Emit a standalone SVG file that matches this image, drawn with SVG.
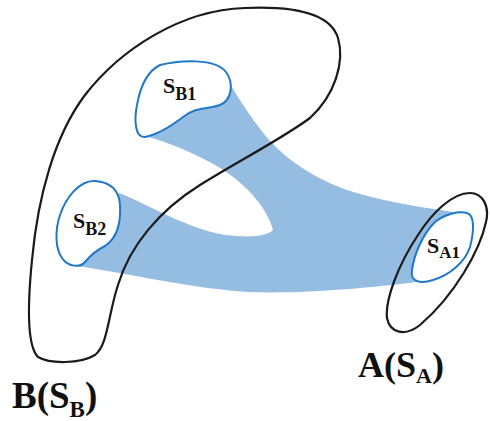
<svg xmlns="http://www.w3.org/2000/svg" width="490" height="421" viewBox="0 0 490 421">
<style>
.outline{fill:none;stroke:#1a1a1a;stroke-width:2.2;stroke-linejoin:round}
.blob{fill:#ffffff;stroke:#1f78c8;stroke-width:2}
.band{fill:#95bce1;stroke:none}
.lbl{font-family:"Liberation Serif","Times New Roman",serif;font-weight:bold;fill:#111}
</style>
<rect width="490" height="421" fill="#ffffff"/>
<g id="connectors">
<path class="band" d="M 226,78 C 240,100 255,125 272,143 C 290,162 320,183 360,194 C 395,204 440,210 467,214 L 440,250 L 416,282 C 370,288 300,294 250,292 C 200,290 120,272 77,266 L 95,230 L 119,193 C 150,205 185,228 225,235 C 250,238 268,236 273,230 C 268,210 248,185 220,168 C 195,153 170,143 145,136 L 185,110 Z"/>
</g>
<g id="node-B">
<path class="outline" d="M 245,8 C 290,6 330,12 338,38 C 345,62 335,95 310,118 C 280,140 240,160 200,185 C 160,210 130,245 118,285 C 108,315 108,345 95,355 C 80,364 50,364 38,357 C 26,345 28,300 32,260 C 38,195 55,135 85,95 C 120,50 180,10 245,8 Z"/>
<text class="lbl" x="12" y="408" font-size="37">B(S<tspan font-size="23" dy="9">B</tspan><tspan dy="-9">)</tspan></text>
</g>
<g id="node-A">
<path class="outline" d="M 470,193 C 482,193 490,205 486,222 C 480,250 455,295 420,325 C 405,337 390,333 387,318 C 385,300 398,265 418,235 C 432,213 452,193 470,193 Z"/>
<text class="lbl" x="358" y="377" font-size="36">A(S<tspan font-size="22" dy="6">A</tspan><tspan dy="-6">)</tspan></text>
</g>
<g id="node-SB1">
<path class="blob" d="M 160,65 C 180,60 215,58 226,72 C 234,83 232,100 220,105 C 205,110 195,107 183,117 C 170,127 155,135 145,137 C 135,138 134,120 137,105 C 140,88 146,72 160,65 Z"/>
<text class="lbl" x="163" y="93" font-size="22">S<tspan font-size="18" dy="7">B1</tspan></text>
</g>
<g id="node-SB2">
<path class="blob" d="M 95,181 C 110,182 119,190 120,205 C 121,222 117,238 105,246 C 95,251 90,256 85,262 C 80,268 68,267 62,258 C 55,248 55,230 60,215 C 66,197 80,180 95,181 Z"/>
<text class="lbl" x="73" y="228" font-size="22">S<tspan font-size="18" dy="7">B2</tspan></text>
</g>
<g id="node-SA1">
<path class="blob" d="M 467,213 C 475,215 474,232 470,247 C 465,262 450,275 433,280 C 420,284 410,282 412,270 C 414,255 422,235 435,222 C 445,214 458,211 467,213 Z"/>
<text class="lbl" x="427" y="253" font-size="22">S<tspan font-size="17" dy="5">A1</tspan></text>
</g>
</svg>
